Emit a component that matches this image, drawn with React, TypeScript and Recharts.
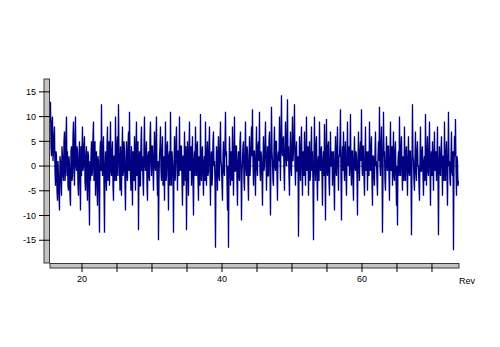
import { LineChart, Line, XAxis, YAxis, ReferenceLine, usePlotArea } from "recharts";

// sampled signal (about two samples per pixel), split in chunks
const seg1 = [13, 4, 2, 9, 10, 1, 3, 6, 8, -1, -4, 3, 2, -5, -7, 1, -2, -6, -9, 2, 1, -3, -6, 4, 2, -2, -3, 5, 7, -3, -1, 6, 10, -2, 3, -4, -5, 2, 0, -6, -8, 3, 4, -3, -2, 6, 9, -1, -4, 5, 10, 0, -1, 4, 3, -4, -6, 2, 5, -3, -9, 4, -2, 3, 8, -1, 0, 4, 6, -3, -5, 2, 4, -4, -7, 3, 2, -5, -12, 1, -3, 2, 5, -2, -1, 6, 9, -3, 2, 5, -6, 1, 3, -4, -8, 2, 1, -5, -13.5, 3, 5, -1];
const seg2 = [12.5, 1, -2, 3, 6, -4, -13.5, 0, 3, -2, -5, 4, 8, -3, 1, 5, -4, 2, 9, -1, -2, 3, 5, -4, -7, 2, 2, -3, 10, 1, -3, 4, 6, -2, 12.5, 3, 0, -5, 4, 1, -6, 3, 8, -2, -1, 5, 3, -4, -9, 1, 5, -2, -3, 4, 7, -1, 11, 2, -2, -5, 4, 0, -8, 3, 1, -3, 6, 2, -5, 4, 9, -2, 0, 5, -13, -1, 3, -4, -4, 5, 8, -1, 2, -3, -6, 4, 10, 0, -1, 3, 5, -4, -7, 2, 3, -2, -3, 6, 9, 1, -2, 4];
const seg3 = [4, -1, -5, 2, 7, 0, -1, 5, 10, -2, -6, 1, -15, -3, 2, 4, 8, -1, -3, 3, 6, -4, 0, 2, -7, 1, 9, -3, -2, 4, 5, -1, -9, 2, 3, -4, 11, 1, -4, 3, 1, -2, -13.5, 0, 6, -3, -2, 5, 8, 1, -5, 3, 3, -2, 10, 0, -1, 4, 4, -3, -8, 2, 2, -4, 7, 1, -3, 4, -13, -2, 5, 1, -6, 3, 9, -1, 0, 4, -4, 2, 6, -3, -10, 1, 3, -2, 8, 2, -2, 4, 5, -3, -7, 2, 1, -4, 10.5, 0, -3, 3, 4, -2];
const seg4 = [-6, 1, 2, -3, 9, 0, -4, 3, 5, -2, -1, 4, 8, -1, -8, 2, 3, -4, -2, 5, 7, 0, 1, -3, -16.5, -2, 4, 1, -5, 3, 6, -2, -3, 4, 9, 1, 0, -4, -7, 2, 5, -1, -2, 4, 11, 2, 3, -3, -9, 0, -16.5, -1, 6, 2, -4, 3, 2, -3, 8, 1, -6, 2, 10, -1, -1, 4, 4, -3, -8, 1, 3, -2, -3, 5, 7, 0, -11, -2, 1, 4, 5, -3, -5, 2, 9, 0, -2, 4, 3, -3, -7, 1, 6, -2, 0, 4, 8, 2, 11.5, 1, -4, 3];
const seg5 = [3, -1, -6, 2, 8, 0, -2, 4, 5, 1, 11, -1, -3, 3, 2, -2, -8, 1, 6, -1, 0, 4, 9, 2, -5, 1, 4, -2, -2, 5, 7, -1, -10, 2, 12, 3, 1, -3, -4, 4, 8, 0, -1, 5, 5, -2, -7, 2, 3, 1, 10, 2, -3, 6, 14.3, 3, 2, 5, 6, -1, -5, 3, 9, 2, 0, 6, 13.5, 1, 4, -2, -6, 3, 7, 0, -2, 4, 10, 1, 3, 6, 12.5, 0, -4, 3, 5, -1, -1, 2, -14.3, -2, 6, 1, -3, 4, 8, 0, -6, 3, 2, -2, 7, 1];
const seg6 = [-4, 2, 10, -1, 1, 4, -6, 0, 5, -3, -2, 3, 8, -1, 3, -4, -15, 1, 10, 0, -3, 4, 6, -2, -7, 1, 2, -3, 9, 2, -1, 3, 4, -2, -8, 1, 3, -2, 8.5, 0, -11, 2, 9.5, -1, -2, 4, 5, -3, -6, 1, 7, 0, 0, 3, -4, 2, 3, -3, -9, 1, 6, -1, -2, 4, 8, 0, -5, 2, 2, 5, 11.5, -2, -11, 1, 4, -1, 7, 2, -3, 3, 5, -2, -6, 1, 9, 0, 1, 4, -2, 2, 10.5, -1, -4, 3, 3, -3, -7, 2, 6, 0, -1, 3];
const seg7 = [2, -2, -10, 1, 7, 0, -3, 3, 5, 1, 11.5, 0, -2, 4, 4, -2, -6, 1, 8, -1, 0, 3, -5, 2, 3, -2, 9, 1, -1, 4, 6, -3, -8, 2, 2, -2, -4, 3, 7, 0, 1, -3, -6, 2, 5, 1, 12, 0, -2, 4, 8, 1, -13.5, -2, 11, 2, 3, -3, -5, 1, 6, 0, -1, 4, 4, -2, -7, 2, 9, -1, 2, 4, -4, 1, 7, -2, -3, 3, 5, -2, -8, 0, -12, 1, 3, -2, 10, 1, -2, 4, 6, -1, -5, 2, 1, -3, 8, 0, -3, 3, 4, -1];
const seg8 = [-6, 1, 6, -1, -2, 3, 3, -2, -14, 0, 12.5, 2, 1, -3, -5, 2, 7, -1, -3, 3, 5, 0, 0, -4, -7, 1, 8, -1, -1, 3, 4, -2, -6, 1, 2, -3, 10.5, 1, -4, 2, 6, -1, -2, 3, 9, 0, -8, 2, 3, -2, 5, 1, -5, 2, 7, -1, 0, 3, -3, 1, 8, -2, -14, 0, 4, -1, -2, 3, 6, 0, -6, 2, 2, -3, 9, 1, -3, 2, 5, -2, -8, 1, 11, 0, 1, -3, -4, 2, 7, -1, -2, 3, -17, -1, 6, 2, 9.5, 0, -6, 2, 1, -4, -3];

const firstRev = 15.5;
const revStep = 1 / 14;
const xTicks = [20, 25, 30, 35, 40, 45, 50, 55, 60, 65, 70];
const yTicks = [-15, -10, -5, 0, 5, 10, 15];

const values = [...seg1, ...seg2, ...seg3, ...seg4, ...seg5, ...seg6, ...seg7, ...seg8];
const data = values.map((v, i) => ({ rev: firstRev + i * revStep, value: v }));

const font = { fontFamily: "Liberation Sans, Arial, sans-serif", fontSize: 9, fill: "#000" };

// grey 3d-ish bars drawn along the two axes
function AxisBars() {
  const area = usePlotArea();
  if (!area) return null;
  const { x, y, width, height } = area;
  return (
    <g>
      <rect x={x - 6} y={y} width={5.5} height={height} fill="#c4c4c4" stroke="#3a3a3a" strokeWidth={1} />
      <rect x={x} y={y + height + 0.5} width={width} height={4.5} fill="#c4c4c4" stroke="#3a3a3a" strokeWidth={1} />
    </g>
  );
}

export default function App() {
  return (
    <div style={{ position: "absolute", left: 0, top: 0, background: "#fff" }}>
      <LineChart width={500} height={347} data={data} margin={{ top: 79, right: 41, bottom: 54, left: 0 }}>
        <XAxis
          dataKey="rev"
          type="number"
          domain={[15.43, 73.86]}
          ticks={xTicks}
          tickFormatter={(t: number) => (t % 20 === 0 ? String(t) : "")}
          tick={font}
          tickSize={9}
          tickMargin={4}
          tickLine={{ stroke: "#000" }}
          axisLine={false}
          height={30}
          allowDataOverflow
          label={{ value: "Rev", position: "right", offset: 0, dy: 3, style: font }}
        />
        <YAxis
          type="number"
          domain={[-19.6, 17.6]}
          ticks={yTicks}
          tick={font}
          tickSize={11}
          tickMargin={3}
          tickLine={{ stroke: "#000" }}
          axisLine={false}
          width={50}
          allowDataOverflow
        />
        <ReferenceLine y={0} stroke="#8a8a8a" strokeWidth={1} />
        <Line
          dataKey="value"
          stroke="#000080"
          strokeWidth={1.3}
          dot={false}
          type="linear"
          isAnimationActive={false}
        />
        <AxisBars />
      </LineChart>
    </div>
  );
}
